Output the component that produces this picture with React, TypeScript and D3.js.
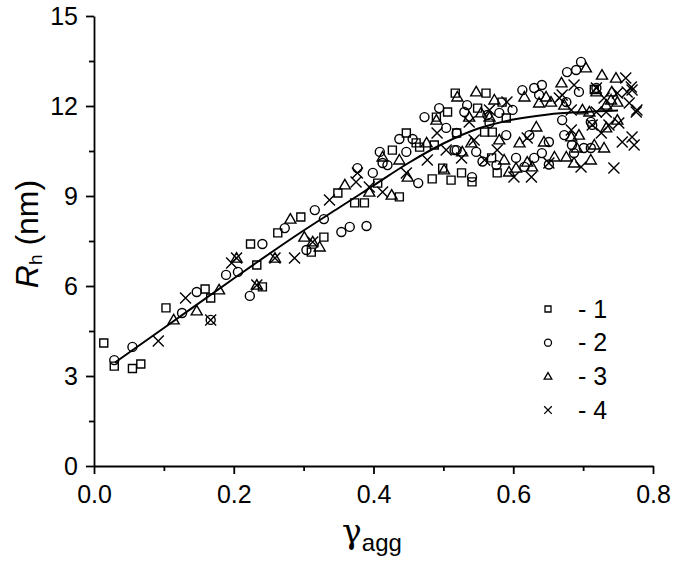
import React, { useEffect, useRef } from 'react';
import * as d3 from 'd3';

const xTicks = [0, 0.2, 0.4, 0.6, 0.8];
const xMinor = [0.1, 0.3, 0.5, 0.7];
const yTicks = [0, 3, 6, 9, 12, 15];
const yMinor = [1.5, 4.5, 7.5, 10.5, 13.5];
const legendLabels = ['- 1', '- 2', '- 3', '- 4'];

// [gamma_agg, Rh]
const series1 = [
  [0.014, 4.1], [0.029, 3.33], [0.055, 3.25], [0.067, 3.4], [0.103, 5.27], [0.159, 5.9], [0.167, 5.6],
  [0.241, 5.97], [0.224, 7.4], [0.233, 6.7], [0.263, 7.77], [0.296, 8.3], [0.311, 7.13], [0.329, 7.63],
  [0.349, 9.1], [0.373, 8.77], [0.387, 8.77], [0.406, 9.43], [0.437, 8.97], [0.427, 10.53], [0.447, 11.1],
  [0.461, 10.77], [0.466, 10.63], [0.487, 10.7], [0.49, 11.63], [0.506, 11.8], [0.484, 9.57], [0.499, 9.93],
  [0.511, 9.53], [0.519, 11.1], [0.517, 12.43], [0.561, 12.43], [0.584, 12.13], [0.549, 11.93], [0.59, 11.6],
  [0.559, 11.13], [0.57, 11.13], [0.569, 10.27], [0.526, 9.77], [0.541, 9.47], [0.577, 9.77], [0.716, 12.55],
];

const series2 = [
  [0.029, 3.53], [0.055, 3.97], [0.126, 5.1], [0.147, 5.8], [0.167, 4.87], [0.189, 6.37], [0.206, 6.47],
  [0.223, 5.67], [0.241, 7.4], [0.273, 7.93], [0.316, 8.53], [0.329, 8.23], [0.304, 7.2], [0.354, 7.8],
  [0.366, 7.97], [0.39, 8.0], [0.377, 9.93], [0.399, 9.77], [0.413, 10.1], [0.409, 10.47], [0.42, 10.03],
  [0.447, 10.47], [0.464, 9.43], [0.437, 10.9], [0.456, 10.9], [0.504, 11.27], [0.473, 11.63], [0.494, 11.93],
  [0.516, 10.53], [0.599, 11.87], [0.534, 12.03], [0.53, 11.8], [0.563, 11.7], [0.58, 11.77], [0.566, 11.43],
  [0.613, 12.53], [0.63, 12.6], [0.641, 12.7], [0.637, 12.37], [0.519, 11.1], [0.519, 10.53], [0.547, 10.47],
  [0.556, 10.15], [0.576, 10.03], [0.59, 11.03], [0.541, 9.63], [0.604, 10.27], [0.623, 11.03], [0.616, 9.97],
  [0.63, 10.27], [0.641, 10.43], [0.651, 10.8], [0.651, 10.05], [0.677, 13.13], [0.69, 13.2], [0.697, 13.47],
  [0.694, 12.47], [0.719, 12.6], [0.676, 12.13], [0.711, 11.47], [0.713, 11.37], [0.67, 11.53], [0.673, 11.03],
  [0.684, 10.7], [0.701, 10.6], [0.711, 10.6], [0.687, 10.43],
];

const series3 = [
  [0.114, 4.87], [0.147, 5.17], [0.179, 5.87], [0.204, 6.93], [0.233, 6.03], [0.259, 6.93], [0.281, 8.23],
  [0.301, 7.63], [0.313, 7.47], [0.323, 7.3], [0.359, 9.37], [0.394, 9.13], [0.426, 9.03], [0.413, 10.3],
  [0.437, 10.2], [0.449, 9.63], [0.476, 10.77], [0.49, 11.53], [0.501, 9.87], [0.52, 12.3], [0.547, 12.47],
  [0.573, 12.2], [0.554, 11.77], [0.537, 11.63], [0.566, 11.63], [0.616, 12.3], [0.637, 12.1], [0.654, 12.13],
  [0.647, 12.3], [0.669, 12.77], [0.633, 11.3], [0.54, 10.77], [0.527, 10.47], [0.587, 10.2], [0.58, 10.87],
  [0.594, 9.8], [0.604, 9.93], [0.609, 10.77], [0.62, 10.13], [0.627, 9.97], [0.644, 10.8], [0.659, 10.3],
  [0.704, 13.27], [0.727, 13.03], [0.747, 12.93], [0.719, 12.47], [0.741, 12.47], [0.74, 12.2], [0.749, 12.13],
  [0.733, 12.03], [0.673, 12.03], [0.699, 11.87], [0.709, 11.8], [0.749, 11.53], [0.733, 11.27], [0.694, 11.03],
  [0.683, 10.97], [0.716, 10.7], [0.73, 10.6], [0.691, 10.6], [0.676, 10.3], [0.687, 10.1], [0.711, 10.2],
];

const series4 = [
  [0.092, 4.17], [0.131, 5.6], [0.167, 4.87], [0.197, 6.77], [0.204, 6.93], [0.233, 6.03], [0.259, 6.93],
  [0.287, 6.93], [0.313, 7.47], [0.337, 8.87], [0.375, 9.47], [0.377, 9.77], [0.394, 9.3], [0.413, 9.13],
  [0.447, 9.77], [0.477, 10.2], [0.491, 11.1], [0.504, 10.53], [0.591, 12.13], [0.537, 11.47], [0.566, 11.87],
  [0.666, 12.27], [0.544, 10.87], [0.526, 10.27], [0.559, 10.2], [0.577, 10.53], [0.601, 9.63], [0.62, 10.93],
  [0.626, 9.63], [0.651, 10.1], [0.761, 12.93], [0.769, 12.63], [0.763, 12.47], [0.687, 12.7], [0.719, 12.6],
  [0.749, 12.43], [0.73, 12.27], [0.766, 12.1], [0.776, 11.8], [0.67, 12.37], [0.683, 11.87], [0.719, 11.8],
  [0.713, 11.37], [0.733, 11.8], [0.737, 11.37], [0.751, 11.43], [0.726, 11.1], [0.756, 10.8], [0.77, 10.97],
  [0.773, 10.7], [0.683, 11.2], [0.697, 9.97], [0.744, 9.93], [0.777, 11.87], [0.77, 12.53],
];

const fitLine = [
  [0.03, 3.45], [0.1, 4.6], [0.2, 6.25], [0.3, 7.85], [0.35, 8.6], [0.4, 9.35], [0.45, 10.1],
  [0.5, 10.75], [0.55, 11.25], [0.6, 11.55], [0.65, 11.72], [0.7, 11.8], [0.75, 11.85],
];

const shapes = ['square', 'circle', 'triangle', 'cross'];

function marker(type: string, s: number) {
  if (type === 'square') return `M${-s},${-s}h${2 * s}v${2 * s}h${-2 * s}Z`;
  if (type === 'circle') return `M${s},0A${s},${s} 0 1,1 ${-s},0A${s},${s} 0 1,1 ${s},0Z`;
  if (type === 'triangle') return `M0,${-s * 1.1}L${s * 1.1},${s * 0.8}L${-s * 1.1},${s * 0.8}Z`;
  return `M${-s},${-s}L${s},${s}M${-s},${s}L${s},${-s}`;
}

export default function App() {
  const ref = useRef<SVGSVGElement>(null);

  useEffect(() => {
    const svg = d3.select(ref.current);
    svg.selectAll('*').remove();
    const font = 'Liberation Sans, Arial, sans-serif';

    const x = d3.scaleLinear().domain([0, 0.8]).range([94, 653]);
    const y = d3.scaleLinear().domain([0, 15]).range([466, 16]);

    // x axis
    const gx = svg.append('g').attr('transform', 'translate(0,466)');
    gx.call(d3.axisBottom(x).tickValues(xTicks).tickSize(8).tickSizeOuter(0).tickPadding(11)
      .tickFormat(d3.format('.1f') as any));
    gx.append('g').call(d3.axisBottom(x).tickValues(xMinor).tickSize(5).tickFormat(() => ''))
      .select('.domain').remove();

    // y axis
    const gy = svg.append('g').attr('transform', 'translate(94,0)');
    gy.call(d3.axisLeft(y).tickValues(yTicks).tickSize(8).tickSizeOuter(0).tickPadding(8));
    gy.append('g').call(d3.axisLeft(y).tickValues(yMinor).tickSize(5).tickFormat(() => ''))
      .select('.domain').remove();

    svg.selectAll('.domain, .tick line').attr('stroke', '#000').attr('stroke-width', 1.8);
    svg.selectAll('.tick text').attr('fill', '#000').attr('font-size', 25).attr('font-family', font);

    // scatter
    [series1, series2, series3, series4].forEach((data, i) => {
      const size = [4, 4.5, 5, 5.5][i];
      svg.append('g').selectAll('path').data(data).enter().append('path')
        .attr('transform', (d) => `translate(${x(d[0])},${y(d[1])})`)
        .attr('d', marker(shapes[i], size))
        .attr('fill', 'none').attr('stroke', '#000').attr('stroke-width', 1.4);
    });

    // fit curve
    const line = d3.line<number[]>().x((d) => x(d[0])).y((d) => y(d[1])).curve(d3.curveMonotoneX);
    svg.append('path').datum(fitLine).attr('d', line).attr('fill', 'none')
      .attr('stroke', '#000').attr('stroke-width', 2);

    // legend
    const lg = svg.append('g');
    legendLabels.forEach((label, i) => {
      const ly = 309 + i * 33.7;
      lg.append('path').attr('transform', `translate(548,${ly})`)
        .attr('d', marker(shapes[i], [3, 3.5, 3.5, 3.8][i]))
        .attr('fill', 'none').attr('stroke', '#000').attr('stroke-width', 1.3);
      lg.append('text').attr('x', 578).attr('y', ly).attr('dy', '0.35em')
        .attr('font-size', 25).attr('font-family', font).text(label);
    });

    // axis titles
    const yt = svg.append('text').attr('transform', 'translate(38,234) rotate(-90)')
      .attr('text-anchor', 'middle').attr('font-size', 32).attr('font-family', font);
    yt.append('tspan').attr('font-style', 'italic').text('R');
    yt.append('tspan').attr('font-size', 19).attr('dy', 4).text('h');
    yt.append('tspan').attr('dy', -4).text(' (nm)');

    const xt = svg.append('text').attr('x', 372).attr('y', 543)
      .attr('text-anchor', 'middle').attr('font-size', 24).attr('font-family', font);
    xt.append('tspan').attr('font-family', 'DejaVu Serif, serif').attr('font-size', 33).text('γ');
    xt.append('tspan').attr('dy', 8).text('agg');
  }, []);

  return (
    <div style={{ position: 'fixed', left: 0, top: 0 }}>
      <svg ref={ref} width={675} height={567} style={{ background: '#fff' }} />
    </div>
  );
}
